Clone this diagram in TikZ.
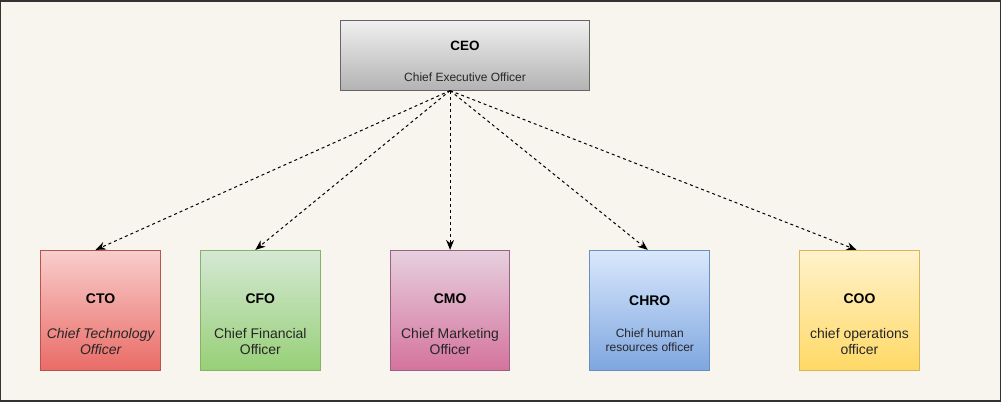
\documentclass[tikz,border=0pt]{standalone}
\usepackage{fontspec}
\setmainfont{Liberation Sans}
\usetikzlibrary{arrows.meta}
\definecolor{bg}{HTML}{F8F5EE}
\definecolor{ctoS}{HTML}{B85450}\definecolor{ctoA}{HTML}{F8CECC}\definecolor{ctoB}{HTML}{EA6B66}
\definecolor{cfoS}{HTML}{82B366}\definecolor{cfoA}{HTML}{D5E8D4}\definecolor{cfoB}{HTML}{97D077}
\definecolor{cmoS}{HTML}{996185}\definecolor{cmoA}{HTML}{E6D0DE}\definecolor{cmoB}{HTML}{D5739D}
\definecolor{chrS}{HTML}{6C8EBF}\definecolor{chrA}{HTML}{DAE8FC}\definecolor{chrB}{HTML}{7EA6E0}
\definecolor{cooS}{HTML}{D6B656}\definecolor{cooA}{HTML}{FFF2CC}\definecolor{cooB}{HTML}{FFD966}
\tikzset{
  box/.style={draw, line width=1pt, minimum width=120pt, minimum height=120pt, inner sep=0pt},
  ttl/.style={font=\fontsize{14}{16}\selectfont\bfseries, text=black},
  sub/.style={font=\fontsize{14}{16}\selectfont, text=black!85, align=center},
  subs/.style={font=\fontsize{12}{14}\selectfont, text=black!85, align=center},
  link/.style={line width=1pt, dash pattern=on 3pt off 3pt, -{Stealth[length=10pt,width=8pt]}},
}
\begin{document}
\begin{tikzpicture}[x=1pt,y=-1pt]
\draw[fill=bg, draw=black!80, line width=1.5pt] (0,0) rectangle (1001,401);
\useasboundingbox (0,0) rectangle (1001,401);
% CEO
\node[box, minimum width=250pt, minimum height=70pt, draw=black!60, top color=black!6, bottom color=black!30] (ceo) at (465,55) {};
\node[ttl, font=\fontsize{13.5}{15}\selectfont\bfseries] (ceot) at (465,45) {CEO};
\node[subs] (ceos) at (465,77) {Chief Executive Officer};
\coordinate (src) at (450,90);
% CTO
\node[box, draw=ctoS, top color=ctoA, bottom color=ctoB] (cto) at (100,310) {};
\node[ttl] at (100,298) {CTO};
\node[sub, font=\fontsize{14}{16}\selectfont\itshape] at (100,341) {Chief Technology\\Officer};
% CFO
\node[box, draw=cfoS, top color=cfoA, bottom color=cfoB] (cfo) at (260,310) {};
\node[ttl] at (260,298) {CFO};
\node[sub] at (260,341) {Chief Financial\\Officer};
% CMO
\node[box, draw=cmoS, top color=cmoA, bottom color=cmoB] (cmo) at (450,310) {};
\node[ttl] at (450,298) {CMO};
\node[sub] at (450,341) {Chief Marketing\\Officer};
% CHRO
\node[box, draw=chrS, top color=chrA, bottom color=chrB] (chro) at (650,310) {};
\node[ttl] at (650,300) {CHRO};
\node[subs] at (650,340) {Chief human\\resources officer};
% COO
\node[box, draw=cooS, top color=cooA, bottom color=cooB] (coo) at (860,310) {};
\node[ttl] at (860,298) {COO};
\node[sub] at (860,341) {chief operations\\officer};
% links
\draw[link] (src) -- ([xshift=-5pt]cto.north);
\draw[link] (src) -- ([xshift=-5pt]cfo.north);
\draw[link] (src) -- (cmo.north);
\draw[link] (src) -- ([xshift=-2pt]chro.north);
\draw[link] (src) -- ([xshift=-3pt]coo.north);
\end{tikzpicture}
\end{document}
